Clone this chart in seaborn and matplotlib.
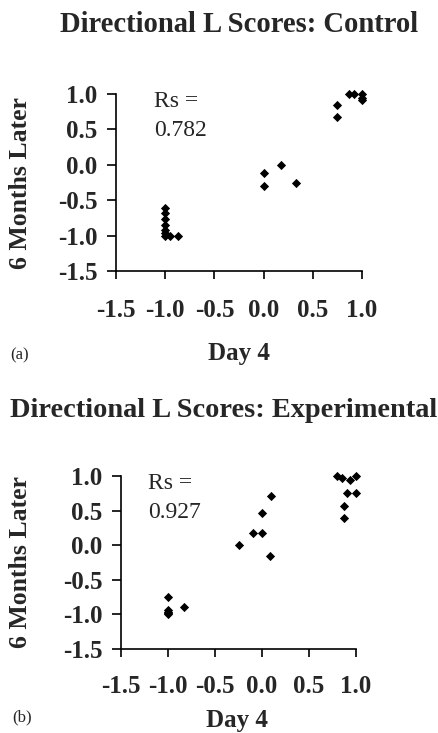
import numpy as np
import pandas as pd
import matplotlib
matplotlib.use("Agg")
import matplotlib.pyplot as plt
import seaborn as sns

# control group (panel a)
ctrl_day4 = [-1.0, -1.0, -1.0, -1.0, -1.0, -1.0, -1.0, -0.95, -0.875,
             0.0, 0.0, 0.18, 0.33,
             0.75, 0.75, 0.87, 0.92, 1.0, 1.0, 1.0]
ctrl_6mo = [-0.61, -0.68, -0.77, -0.85, -0.92, -0.97, -1.0, -1.0, -1.0,
            -0.12, -0.3, 0.0, -0.26,
            0.84, 0.67, 1.0, 1.0, 1.0, 0.95, 0.91]

# experimental group (panel b)
exp_day4 = [-1.0, -1.0, -1.0, -1.0, -1.0, -0.83,
            -0.25, -0.1, 0.0, 0.0, 0.1, 0.085,
            0.8, 0.85, 0.94, 1.0, 0.9, 1.0, 0.87, 0.87]
exp_6mo = [-0.75, -0.93, -0.96, -0.98, -1.0, -0.9,
           0.01, 0.17, 0.17, 0.46, 0.71, -0.15,
           1.0, 0.97, 0.94, 1.0, 0.75, 0.75, 0.57, 0.39]

ticks = [-1.5, -1.0, -0.5, 0.0, 0.5, 1.0]
tick_labels = ["-1.5", "-1.0", "-0.5", "0.0", "0.5", "1.0"]

sns.set_style("ticks")
plt.rcParams["font.family"] = ["Liberation Serif", "DejaVu Serif"]

W, H = 439, 733
fig = plt.figure(figsize=(W / 100, H / 100), dpi=100)


def px_axes(l, t, r, b):
    return fig.add_axes([l / W, 1 - b / H, (r - l) / W, (b - t) / H])


def panel(ax, x, y, rs, rs_x, xpad):
    df = pd.DataFrame({"day4": x, "later": y})
    sns.scatterplot(data=df, x="day4", y="later", ax=ax, marker="D", s=22,
                    color="black", edgecolor="black", linewidth=0, clip_on=False)
    ax.set_xlim(-1.5, 1.0)
    ax.set_ylim(-1.5, 1.0)
    ax.set_xticks(ticks)
    ax.set_yticks(ticks)
    ax.set_xticklabels(tick_labels, fontsize=18, fontweight="bold")
    ax.set_yticklabels(tick_labels, fontsize=18, fontweight="bold")
    ax.tick_params(axis="y", length=6.5, width=1.2, pad=7, color="black")
    ax.tick_params(axis="x", length=6, width=1.2, pad=xpad, color="black")
    for s in ["left", "bottom"]:
        ax.spines[s].set_linewidth(1.2)
        ax.spines[s].set_color("black")
    sns.despine(ax=ax)
    ax.set_xlabel("")
    ax.set_ylabel("")
    ax.text(rs_x, 1.015, "Rs =\n" + rs, transform=ax.transAxes, fontsize=17,
            va="top", ha="left", linespacing=1.45)


ax1 = px_axes(116, 94, 362, 271)
panel(ax1, ctrl_day4, ctrl_6mo, "0.782", 0.155, 14)
ax2 = px_axes(121, 476, 356, 649)
panel(ax2, exp_day4, exp_6mo, "0.927", 0.115, 12.5)

fig.text(239 / W, 1 - 25 / H, "Directional L Scores: Control", ha="center",
         va="center", fontsize=20.6, fontweight="bold")
fig.text(224 / W, 1 - 410 / H, "Directional L Scores: Experimental", ha="center",
         va="center", fontsize=20.4, fontweight="bold")

for yc in [183, 562]:
    fig.text(21 / W, 1 - yc / H, "6 Months Later", rotation=90, ha="center",
             va="center", fontsize=18.5, fontweight="bold")
fig.text(239 / W, 1 - 353 / H, "Day 4", ha="center", va="center",
         fontsize=18, fontweight="bold")
fig.text(237 / W, 1 - 720 / H, "Day 4", ha="center", va="center",
         fontsize=18, fontweight="bold")
fig.text(10 / W, 1 - 355 / H, "(a)", ha="left", va="center", fontsize=12)
fig.text(12 / W, 1 - 717 / H, "(b)", ha="left", va="center", fontsize=12)

fig.savefig("out.png", dpi=100)
